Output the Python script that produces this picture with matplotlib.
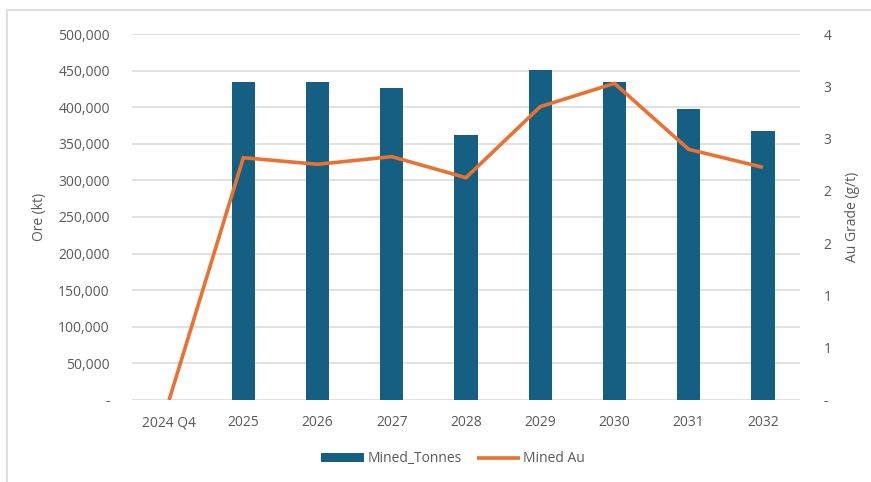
import matplotlib.pyplot as plt
import matplotlib.ticker as mticker
from matplotlib.patches import Rectangle
import numpy as np

## data

periods = ["2024 Q4", "2025", "2026", "2027", "2028", "2029", "2030", "2031", "2032"]
mined_tonnes = [0, 434400, 434800, 425800, 361600, 450800, 434000, 397500, 367000]
mined_au = [0.0, 2.317, 2.254, 2.327, 2.126, 2.805, 3.028, 2.397, 2.225]

## styles

plt.rcParams['font.family'] = ['Open Sans', 'DejaVu Sans']
bar_color = '#156082'
line_color = '#E97132'
text_color = '#595959'
grid_color = '#D9D9D9'
fs = 10

fig = plt.figure(figsize=(8.71, 4.82), dpi=100)
ax = fig.add_axes([132/871, 1-400/482, 668/871, 366/482])
ax2 = ax.twinx()

x = np.arange(len(periods))
bars = ax.bar(x, mined_tonnes, width=0.315, color=bar_color, label="Mined_Tonnes", zorder=2)
line, = ax2.plot(x, mined_au, color=line_color, linewidth=2.6, label="Mined Au",
                 solid_capstyle='butt', solid_joinstyle='miter', zorder=3)

ax.set_xlim(-0.5, len(periods) - 0.5)
ax.set_ylim(0, 500000)
ax.set_yticks(np.arange(0, 500001, 50000))
ax2.set_ylim(0, 3.5)
ax2.set_yticks(np.arange(0, 3.51, 0.5))

def left_fmt(v, pos):
    return "-" if v == 0 else "{:,.0f}".format(v)

def right_fmt(v, pos):
    # excel style rounding, half away from zero
    return "-" if v == 0 else str(int(np.floor(v + 0.5)))

ax.yaxis.set_major_formatter(mticker.FuncFormatter(left_fmt))
ax2.yaxis.set_major_formatter(mticker.FuncFormatter(right_fmt))

ax.set_xticks(x)
ax.set_xticklabels(periods)

ax.grid(axis='y', color=grid_color, linewidth=1.1, zorder=0)
ax.set_axisbelow(True)
for a in (ax, ax2):
    for s in a.spines.values():
        s.set_visible(False)
    a.tick_params(length=0, colors=text_color, labelsize=fs)
ax.tick_params(axis='y', pad=16)
ax.tick_params(axis='x', pad=11)
ax2.tick_params(axis='y', pad=17)

ax.set_ylabel("Ore (kt)", color=text_color, fontsize=fs, labelpad=8)
ax2.set_ylabel("Au Grade (g/t)", color=text_color, fontsize=fs, labelpad=10)

fig.legend(handles=[bars, line], labels=["Mined_Tonnes", "Mined Au"], loc='center',
           bbox_to_anchor=(0.52, 1-459/482), ncol=2, frameon=False, fontsize=fs,
           labelcolor=text_color, handlelength=3.1, handletextpad=0.25, columnspacing=1.1,
           handleheight=0.65)

# outer chart border (cut off at right and bottom)
fig.patches.append(Rectangle((7/871, -0.1), 1.2, 1-10/482+0.1, transform=fig.transFigure,
                             fill=False, edgecolor=grid_color, linewidth=1.2))

plt.savefig("out.png", dpi=100)
